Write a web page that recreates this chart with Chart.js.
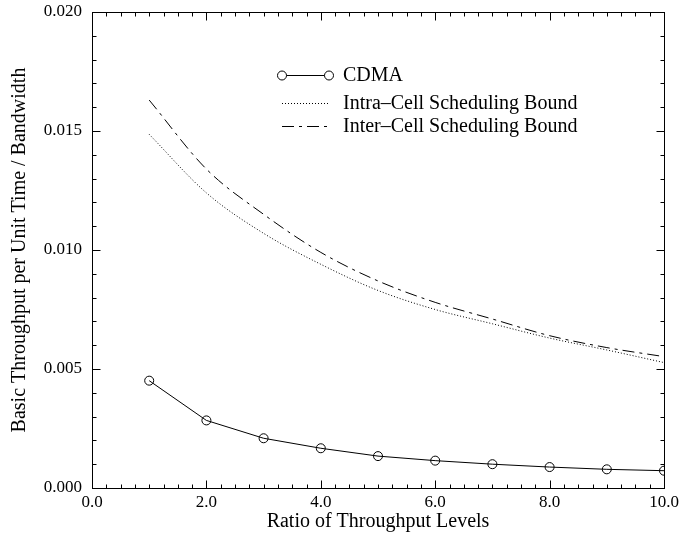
<!DOCTYPE html>
<html>
<head>
<meta charset="utf-8">
<script src="https://cdn.jsdelivr.net/npm/chart.js@4"></script>
<style>
  html, body { margin: 0; padding: 0; background: #fff; }
  #wrap { width: 680px; height: 536px; }
</style>
</head>
<body>
<div id="wrap"><canvas id="chart1" width="680" height="536"></canvas></div>
<script>
// values
const ratioLevels = [1, 2, 3, 4, 5, 6, 7, 8, 9, 10];
const cdmaValues = [0.00451, 0.00284, 0.00209, 0.00167, 0.00134, 0.00115, 0.00100, 0.00088, 0.000785, 0.000727];
const intraCellBound = [0.01486, 0.0124, 0.0107, 0.0094, 0.0083, 0.0075, 0.0069, 0.0063, 0.0058, 0.00527];
const interCellBound = [0.0163, 0.0134, 0.0115, 0.0099, 0.0087, 0.0078, 0.0071, 0.0064, 0.0059, 0.00552];

const xTicks = [0, 2, 4, 6, 8, 10];
const yTicks = [0, 0.005, 0.010, 0.015, 0.020];
const xMinorStep = 0.25;
const yMinorStep = 0.001;

const legendLabels = ['CDMA', 'Intra\u2013Cell Scheduling Bound', 'Inter\u2013Cell Scheduling Bound'];

function toPoints(ys) {
    return ratioLevels.map(function(x, i) { return {x: x, y: ys[i]}; });
}

Chart.defaults.font.family = "'Liberation Serif', 'Times New Roman', serif";
Chart.defaults.color = '#000';

// frame with inward ticks on all four sides, plus the legend box
const framePlugin = {
    id: 'frame',
    afterDraw: function(chart) {
        const ctx = chart.ctx;
        const a = chart.chartArea;
        const x = chart.scales.x;
        const y = chart.scales.y;
        ctx.save();
        ctx.strokeStyle = '#000';
        ctx.lineWidth = 1;
        ctx.setLineDash([]);
        const L = Math.round(a.left) + 0.5, R = Math.round(a.right) + 0.5;
        const T = Math.round(a.top) + 0.5, B = Math.round(a.bottom) + 0.5;
        ctx.strokeRect(L, T, R - L, B - T);

        ctx.beginPath();
        const nx = Math.round((x.max - x.min) / xMinorStep);
        for (let i = 0; i <= nx; i++) {
            const v = x.min + i * xMinorStep;
            const px = Math.round(x.getPixelForValue(v)) + 0.5;
            const len = xTicks.indexOf(v) >= 0 ? 8 : 4;
            ctx.moveTo(px, B); ctx.lineTo(px, B - len);
            ctx.moveTo(px, T); ctx.lineTo(px, T + len);
        }
        const ny = Math.round((y.max - y.min) / yMinorStep);
        for (let i = 0; i <= ny; i++) {
            const v = y.min + i * yMinorStep;
            const py = Math.round(y.getPixelForValue(v)) + 0.5;
            const len = (i % 5 === 0) ? 8 : 4;
            ctx.moveTo(L, py); ctx.lineTo(L + len, py);
            ctx.moveTo(R, py); ctx.lineTo(R - len, py);
        }
        ctx.stroke();

        // legend
        const lx0 = 282, lx1 = 329, tx = 343;
        const rows = [75, 103, 126];
        ctx.font = "20px 'Liberation Serif', 'Times New Roman', serif";
        ctx.textBaseline = 'middle';
        ctx.fillStyle = '#000';
        chart.data.datasets.forEach(function(ds, i) {
            const ry = rows[i] + 0.5;
            ctx.setLineDash(ds.borderDash || []);
            ctx.beginPath();
            ctx.moveTo(lx0, ry); ctx.lineTo(lx1, ry);
            ctx.stroke();
            ctx.setLineDash([]);
            if (ds.pointRadius > 0) {
                [lx0, lx1].forEach(function(cx) {
                    ctx.beginPath();
                    ctx.arc(cx, ry, ds.pointRadius, 0, Math.PI * 2);
                    ctx.fillStyle = '#fff';
                    ctx.fill();
                    ctx.stroke();
                });
                ctx.fillStyle = '#000';
            }
            ctx.fillText(legendLabels[i], tx, rows[i] + 1);
        });
        ctx.restore();
    }
};

const ctx1 = document.getElementById('chart1').getContext('2d');
new Chart(ctx1, {
    type: 'scatter',
    data: {
        datasets: [{
            label: legendLabels[0],
            data: toPoints(cdmaValues),
            showLine: true,
            borderColor: '#000',
            borderWidth: 1,
            backgroundColor: 'rgba(0,0,0,0)',
            pointRadius: 4.5,
            pointBorderWidth: 1,
            pointBorderColor: '#000',
            tension: 0
        }, {
            label: legendLabels[1],
            data: toPoints(intraCellBound),
            showLine: true,
            borderColor: '#000',
            borderWidth: 1,
            borderDash: [1, 2],
            pointRadius: 0,
            cubicInterpolationMode: 'monotone'
        }, {
            label: legendLabels[2],
            data: toPoints(interCellBound),
            showLine: true,
            borderColor: '#000',
            borderWidth: 1,
            borderDash: [12, 5, 3, 5],
            pointRadius: 0,
            cubicInterpolationMode: 'monotone'
        }]
    },
    options: {
        responsive: false,
        animation: false,
        layout: { padding: { left: 0, right: 16, top: 12, bottom: 0 } },
        plugins: {
            legend: { display: false },
            tooltip: { enabled: false }
        },
        scales: {
            x: {
                type: 'linear',
                min: 0,
                max: 10,
                grid: { display: false, drawTicks: false },
                border: { display: false },
                afterBuildTicks: function(scale) {
                    scale.ticks = xTicks.map(function(v) { return {value: v}; });
                },
                afterFit: function(scale) {
                    scale.height = 48;
                    scale.paddingLeft = 0;
                    scale.paddingRight = 0;
                },
                ticks: {
                    padding: 4,
                    font: { size: 17 },
                    callback: function(value) { return value.toFixed(1); }
                },
                title: {
                    display: true,
                    text: 'Ratio of Throughput Levels',
                    font: { size: 20 },
                    padding: { top: 4, bottom: 2 }
                }
            },
            y: {
                type: 'linear',
                min: 0,
                max: 0.02,
                grid: { display: false, drawTicks: false },
                border: { display: false },
                afterBuildTicks: function(scale) {
                    scale.ticks = yTicks.map(function(v) { return {value: v}; });
                },
                afterFit: function(scale) {
                    scale.width = 92;
                    scale.paddingTop = 0;
                    scale.paddingBottom = 0;
                },
                ticks: {
                    padding: 10,
                    font: { size: 17 },
                    callback: function(value) { return value.toFixed(3); }
                },
                title: {
                    display: true,
                    text: 'Basic Throughput per Unit Time / Bandwidth',
                    font: { size: 20 },
                    padding: { top: 8, bottom: 0 }
                }
            }
        }
    },
    plugins: [framePlugin]
});
</script>
</body>
</html>
